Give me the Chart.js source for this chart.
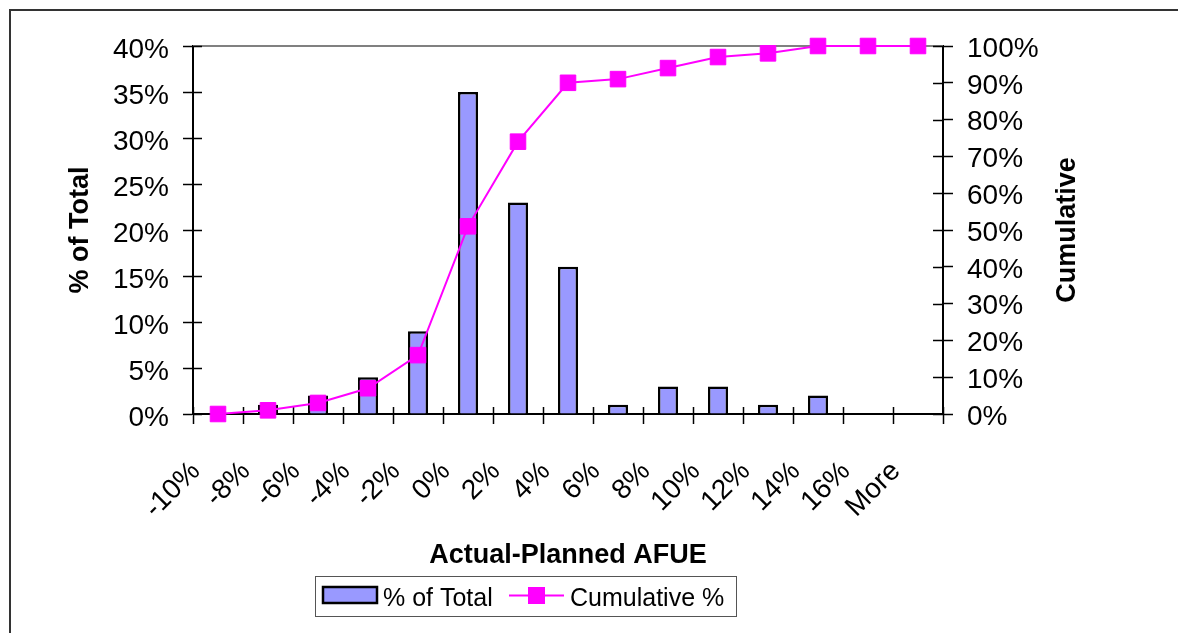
<!DOCTYPE html>
<html>
<head>
<meta charset="utf-8">
<script src="https://cdn.jsdelivr.net/npm/chart.js@4/dist/chart.umd.min.js"></script>
<style>
  html, body { margin: 0; padding: 0; background: #fff; }
  #wrap { width: 1178px; height: 633px; }
  canvas { display: block; }
</style>
</head>
<body>
<div id="wrap"><canvas id="chart" width="1178" height="633"></canvas></div>
<script>
// Histogram bins of Actual - Planned AFUE
const bins = ['-10%', '-8%', '-6%', '-4%', '-2%', '0%', '2%', '4%', '6%', '8%', '10%', '12%', '14%', '16%', 'More'];
// Share of units falling in each bin (%)
const pctOfTotal = [0, 1, 2, 4, 9, 35, 23, 16, 1, 3, 3, 1, 2, 0, 0];
// Running total of the shares (%)
const cumulativePct = [0, 1, 3, 7, 16, 51, 74, 90, 91, 94, 97, 98, 100, 100, 100];
// Axis tick values
const leftTicks = [0, 5, 10, 15, 20, 25, 30, 35, 40];
const rightTicks = [0, 10, 20, 30, 40, 50, 60, 70, 80, 90, 100];

const FONT = '"Liberation Sans", Arial, Helvetica, sans-serif';
const BAR_FILL = '#9999FF';
const LINE_COLOR = '#FF00FF';

Chart.defaults.font.family = FONT;
Chart.defaults.color = '#000';

// White page, outer frame, plot top edge and inner halves of the tick marks
const framePlugin = {
  id: 'frame',
  beforeDraw(chart) {
    const ctx = chart.ctx;
    ctx.save();
    ctx.fillStyle = '#fff';
    ctx.fillRect(0, 0, chart.width, chart.height);
    ctx.strokeStyle = '#333';
    ctx.lineWidth = 2;
    ctx.beginPath();
    ctx.moveTo(10, chart.height + 5);
    ctx.lineTo(10, 10);
    ctx.lineTo(chart.width + 5, 10);
    ctx.stroke();
    ctx.restore();
  },
  beforeDatasetsDraw(chart) {
    const ctx = chart.ctx;
    const a = chart.chartArea;
    ctx.save();
    // top edge of the plot area
    ctx.strokeStyle = '#808080';
    ctx.lineWidth = 2;
    ctx.beginPath();
    ctx.moveTo(a.left, a.top);
    ctx.lineTo(a.right, a.top);
    ctx.stroke();
    // inward tick stubs
    ctx.strokeStyle = '#000';
    ctx.lineWidth = 1.5;
    ctx.beginPath();
    const y = chart.scales.y, y1 = chart.scales.y1, x = chart.scales.x;
    y.ticks.forEach(t => {
      const py = Math.round(y.getPixelForValue(t.value)) + 0.5;
      ctx.moveTo(a.left, py); ctx.lineTo(a.left + 9, py);
    });
    y1.ticks.forEach(t => {
      const py = Math.round(y1.getPixelForValue(t.value)) + 0.5;
      ctx.moveTo(a.right, py); ctx.lineTo(a.right - 10, py);
    });
    const n = x.ticks.length;
    for (let k = 0; k <= n; k++) {
      const px = Math.round(a.left + k * (a.right - a.left) / n) + 0.5;
      ctx.moveTo(px, a.bottom); ctx.lineTo(px, a.bottom - 7);
    }
    ctx.stroke();
    ctx.restore();
  },
  afterDraw(chart) {
    const ctx = chart.ctx;
    const a = chart.chartArea;
    ctx.save();
    // right axis title, reading bottom to top
    ctx.font = 'bold 27px ' + FONT;
    ctx.fillStyle = '#000';
    ctx.textAlign = 'center';
    ctx.textBaseline = 'middle';
    ctx.translate(1068, (a.top + a.bottom) / 2);
    ctx.rotate(-Math.PI / 2);
    ctx.fillText('Cumulative', 0, 0);
    ctx.restore();

    // legend
    const [lineDs, barDs] = chart.data.datasets;
    ctx.save();
    ctx.fillStyle = '#fff';
    ctx.fillRect(315, 576, 421, 40);
    ctx.strokeStyle = '#555';
    ctx.lineWidth = 1;
    ctx.strokeRect(315.5, 576.5, 421, 40);

    ctx.fillStyle = barDs.backgroundColor;
    ctx.fillRect(323, 587, 54, 16);
    ctx.strokeStyle = '#000';
    ctx.lineWidth = 2.5;
    ctx.strokeRect(323, 587, 54, 16);

    ctx.font = '25px ' + FONT;
    ctx.fillStyle = '#000';
    ctx.textBaseline = 'middle';
    ctx.textAlign = 'left';
    ctx.fillText(barDs.label, 383, 599);

    ctx.strokeStyle = lineDs.borderColor;
    ctx.lineWidth = 2;
    ctx.beginPath();
    ctx.moveTo(509, 595.5);
    ctx.lineTo(564, 595.5);
    ctx.stroke();
    ctx.fillStyle = lineDs.backgroundColor;
    ctx.fillRect(528, 587, 17, 17);

    ctx.fillStyle = '#000';
    ctx.fillText(lineDs.label, 570, 599);
    ctx.restore();
  }
};

new Chart(document.getElementById('chart'), {
  type: 'bar',
  data: {
    labels: bins,
    datasets: [
      {
        type: 'line',
        label: 'Cumulative %',
        data: cumulativePct,
        yAxisID: 'y1',
        borderColor: LINE_COLOR,
        backgroundColor: LINE_COLOR,
        borderWidth: 2,
        pointStyle: 'rect',
        pointRadius: 11,
        pointBorderWidth: 1,
        pointBorderColor: LINE_COLOR,
        pointBackgroundColor: LINE_COLOR,
        tension: 0,
        clip: false,
        order: 0
      },
      {
        type: 'bar',
        label: '% of Total',
        data: pctOfTotal,
        yAxisID: 'y',
        backgroundColor: BAR_FILL,
        borderColor: '#000',
        borderWidth: 2.5,
        barPercentage: 0.4,
        categoryPercentage: 1.0,
        order: 1
      }
    ]
  },
  options: {
    responsive: false,
    animation: false,
    devicePixelRatio: 1,
    layout: { padding: { left: 0, right: 0, top: 46, bottom: 60 } },
    plugins: {
      legend: { display: false },
      tooltip: { enabled: false },
      title: { display: false }
    },
    scales: {
      x: {
        type: 'category',
        offset: true,
        grid: {
          offset: true,
          drawOnChartArea: false,
          drawTicks: true,
          tickLength: 10,
          tickColor: '#000',
          tickWidth: 1.5
        },
        border: { display: true, color: '#000', width: 2 },
        ticks: {
          autoSkip: false,
          minRotation: 45,
          maxRotation: 45,
          padding: 31,
          labelOffset: -22,
          font: { size: 28, family: FONT },
          color: '#000'
        },
        title: {
          display: true,
          text: 'Actual-Planned AFUE',
          font: { size: 27, weight: 'bold', family: FONT },
          color: '#000',
          padding: { top: 0, bottom: 1 }
        },
        afterFit(scale) { scale.height = 159; }
      },
      y: {
        position: 'left',
        min: 0,
        max: 40,
        grid: {
          drawOnChartArea: false,
          drawTicks: true,
          tickLength: 10,
          tickColor: '#000',
          tickWidth: 1.5
        },
        border: { display: true, color: '#000', width: 2 },
        afterBuildTicks(scale) { scale.ticks = leftTicks.map(v => ({ value: v })); },
        ticks: {
          padding: 14,
          labelOffset: 4,
          font: { size: 28, family: FONT },
          color: '#000',
          callback: v => v + '%'
        },
        title: {
          display: true,
          text: '% of Total',
          font: { size: 27, weight: 'bold', family: FONT },
          color: '#000',
          padding: { top: 64, bottom: 0 }
        },
        afterFit(scale) { scale.width = 193; }
      },
      y1: {
        position: 'right',
        min: 0,
        max: 100,
        grid: {
          drawOnChartArea: false,
          drawTicks: true,
          tickLength: 10,
          tickColor: '#000',
          tickWidth: 1.5
        },
        border: { display: true, color: '#000', width: 2 },
        afterBuildTicks(scale) { scale.ticks = rightTicks.map(v => ({ value: v })); },
        ticks: {
          padding: 14,
          labelOffset: 3,
          font: { size: 28, family: FONT },
          color: '#000',
          callback: v => v + '%'
        },
        afterFit(scale) { scale.width = 235; }
      }
    }
  },
  plugins: [framePlugin]
});
</script>
</body>
</html>
